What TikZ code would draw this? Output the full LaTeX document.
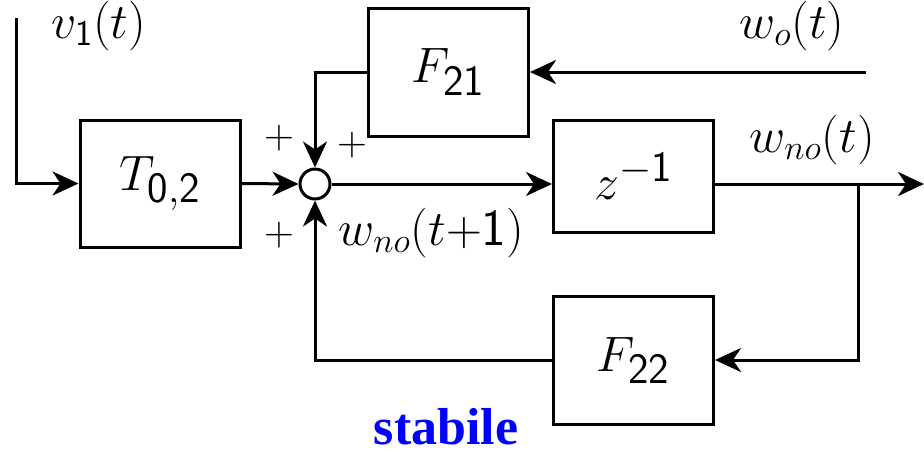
\documentclass[tikz,border=0pt]{standalone}
\usepackage{fontspec}
\newfontfamily\stabfont{Liberation Serif}
\usetikzlibrary{arrows.meta}
\newcommand{\sd}[1]{\mathsf{#1}}
\begin{document}
\begin{tikzpicture}[x=0.5pt,y=-0.5pt,
  line width=1.5pt,
  >={Stealth[length=13pt,width=12pt,inset=4pt]},
  blk/.style={draw,line width=1.5pt,inner sep=0pt,minimum width=80pt,font=\fontsize{31}{36}\selectfont},
  sumc/.style={draw,circle,line width=1.5pt,minimum size=15pt,inner sep=0pt},
  lbl/.style={font=\fontsize{26}{30}\selectfont,inner sep=0pt,anchor=base west},
  pl/.style={font=\fontsize{20}{24}\selectfont,inner sep=0pt}]
\useasboundingbox (0,0) rectangle (924,451);
\node[blk,minimum height=63.5pt] (T) at (160,183.5) {$T_{\sd{0,2}}$};
\node[blk,minimum height=64pt] (F21) at (448.5,72) {$F_{\sd{21}}$};
\node[blk,minimum height=56pt] (Z) at (633.5,176) {$z^{-\sd{1}}$};
\node[blk,minimum height=64pt] (F22) at (633.5,360) {$F_{\sd{22}}$};
\node[sumc] (S) at (315,184) {};
\coordinate (in1) at (16,18);
\coordinate (wo) at (866,72);
\coordinate (br) at (858,184);
\coordinate (out) at (924,184);
\draw[->] (in1) |- (T.west);
\draw[->] (T.east) -- (S.west);
\draw[->] (F21.west) -| (S.north);
\draw[->] (wo) -- (F21.east);
\draw[->] (S.east) -- (S.east -| Z.west);
\draw[->] (Z.east |- S.east) -- (out);
\draw[->] (br) |- (F22.east);
\draw[->] (F22.west) -| (S.south);
\node[lbl] (v1) at (50,38) {$v_{\sd{1}}\sd{(}t\sd{)}$};
\node[lbl] (wol) at (738,38) {$w_o\sd{(}t\sd{)}$};
\node[lbl] (wnol) at (748,152) {$w_{no}\sd{(}t\sd{)}$};
\node[lbl] (wno1) at (337,245) {$w_{no}\sd{(}t\sd{+}\sd{1)}$};
\node[pl] (p1) at (279,138) {$+$};
\node[pl] (p2) at (352,145) {$+$};
\node[pl] (p3) at (279,235) {$+$};
\node[font=\fontsize{26}{30}\selectfont\stabfont\bfseries,text=blue,inner sep=0pt,anchor=base] (st) at (446,444) {stabile};
\end{tikzpicture}
\end{document}
